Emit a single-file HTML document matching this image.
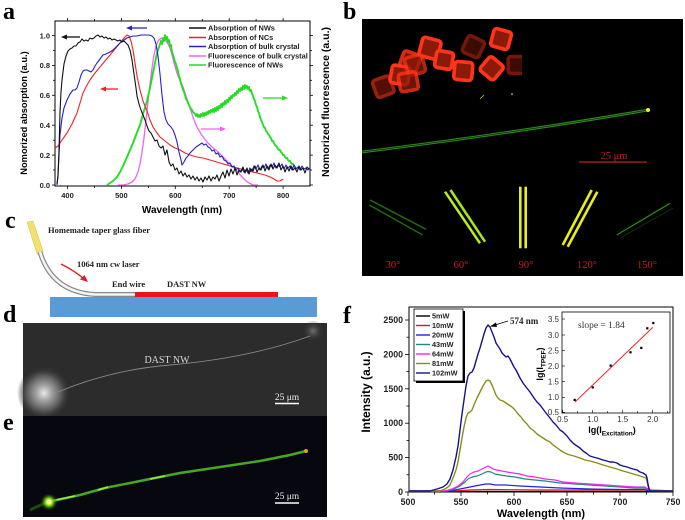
<!DOCTYPE html>
<html><head><meta charset="utf-8"><style>
html,body{margin:0;padding:0;background:#fff;}
svg{display:block;}
.sb{font-family:"Liberation Sans",Arial,sans-serif;font-weight:bold;}
.sr{font-family:"Liberation Sans",Arial,sans-serif;}
.tf{font-family:"Liberation Serif","Times New Roman",serif;}
</style></head><body>
<svg width="685" height="520" viewBox="0 0 685 520" xmlns="http://www.w3.org/2000/svg">
<defs>
<radialGradient id="glowd" cx="50%" cy="50%" r="50%">
<stop offset="0" stop-color="#e8e8e8"/><stop offset="0.3" stop-color="#a0a0a0"/><stop offset="0.65" stop-color="#5a5a5a"/><stop offset="1" stop-color="#2c2c2c" stop-opacity="0"/>
</radialGradient>
<radialGradient id="glowd2" cx="50%" cy="50%" r="50%">
<stop offset="0" stop-color="#707070"/><stop offset="1" stop-color="#2c2c2c" stop-opacity="0"/>
</radialGradient>
<radialGradient id="glowe" cx="50%" cy="50%" r="50%">
<stop offset="0" stop-color="#f4ff60"/><stop offset="0.4" stop-color="#80e020"/><stop offset="1" stop-color="#0a1a05" stop-opacity="0"/>
</radialGradient>
<clipPath id="clipb"><rect x="362" y="19" width="321" height="257"/></clipPath>
<clipPath id="clipc"><rect x="362" y="19" width="160" height="257"/></clipPath>
</defs>

<!-- ===== Panel a ===== -->
<text x="3" y="19" class="tf" font-size="24" font-weight="bold">a</text>
<rect x="55" y="21" width="255" height="165" fill="none" stroke="#000" stroke-width="1"/>
<g stroke="#000" stroke-width="0.8">
<line x1="52" y1="185" x2="55" y2="185"/><line x1="53" y1="170" x2="55" y2="170"/>
<line x1="52" y1="155.1" x2="55" y2="155.1"/><line x1="53" y1="140.2" x2="55" y2="140.2"/>
<line x1="52" y1="125.2" x2="55" y2="125.2"/><line x1="53" y1="110.2" x2="55" y2="110.2"/>
<line x1="52" y1="95.3" x2="55" y2="95.3"/><line x1="53" y1="80.3" x2="55" y2="80.3"/>
<line x1="52" y1="65.4" x2="55" y2="65.4"/><line x1="53" y1="50.5" x2="55" y2="50.5"/>
<line x1="52" y1="35.5" x2="55" y2="35.5"/>
<line x1="310" y1="185" x2="313" y2="185"/><line x1="310" y1="170" x2="312" y2="170"/>
<line x1="310" y1="155.1" x2="313" y2="155.1"/><line x1="310" y1="140.2" x2="312" y2="140.2"/>
<line x1="310" y1="125.2" x2="313" y2="125.2"/><line x1="310" y1="110.2" x2="312" y2="110.2"/>
<line x1="310" y1="95.3" x2="313" y2="95.3"/><line x1="310" y1="80.3" x2="312" y2="80.3"/>
<line x1="310" y1="65.4" x2="313" y2="65.4"/><line x1="310" y1="50.5" x2="312" y2="50.5"/>
<line x1="310" y1="35.5" x2="313" y2="35.5"/>
<line x1="67.5" y1="186" x2="67.5" y2="189"/><line x1="94.5" y1="186" x2="94.5" y2="188"/>
<line x1="121.4" y1="186" x2="121.4" y2="189"/><line x1="148.4" y1="186" x2="148.4" y2="188"/>
<line x1="175.3" y1="186" x2="175.3" y2="189"/><line x1="202.3" y1="186" x2="202.3" y2="188"/>
<line x1="229.2" y1="186" x2="229.2" y2="189"/><line x1="256.1" y1="186" x2="256.1" y2="188"/>
<line x1="283.1" y1="186" x2="283.1" y2="189"/>
<line x1="67.5" y1="21" x2="67.5" y2="18"/><line x1="94.5" y1="21" x2="94.5" y2="19"/>
<line x1="121.4" y1="21" x2="121.4" y2="18"/><line x1="148.4" y1="21" x2="148.4" y2="19"/>
<line x1="175.3" y1="21" x2="175.3" y2="18"/><line x1="202.3" y1="21" x2="202.3" y2="19"/>
<line x1="229.2" y1="21" x2="229.2" y2="18"/><line x1="256.1" y1="21" x2="256.1" y2="19"/>
<line x1="283.1" y1="21" x2="283.1" y2="18"/>
</g>
<g class="sb" font-size="7.5" text-anchor="end" fill="#222">
<text x="50" y="188">0.0</text><text x="50" y="158">0.2</text><text x="50" y="128">0.4</text>
<text x="50" y="98">0.6</text><text x="50" y="68">0.8</text><text x="50" y="38.5">1.0</text>
</g>
<g class="sb" font-size="7.5" text-anchor="middle" fill="#222">
<text x="67.5" y="198">400</text><text x="121.4" y="198">500</text><text x="175.3" y="198">600</text>
<text x="229.2" y="198">700</text><text x="283.1" y="198">800</text>
</g>
<text class="sb" font-size="10" text-anchor="middle" x="182" y="213">Wavelength (nm)</text>
<text class="sb" font-size="9.3" text-anchor="middle" transform="translate(27,113) rotate(-90)">Nomorized absorption (a.u.)</text>
<text class="sb" font-size="10.5" text-anchor="middle" transform="translate(329,102) rotate(-90)">Nomorized fluorescence (a.u.)</text>

<g fill="none" stroke-linejoin="round">
<polyline stroke="#ee66ee" stroke-width="1.3" points="118,185 123,185 128,184 132,182 135,179 138,172 140,164 142,152 144,138 146,120 148,102 150,84 152,68 154,55 156,46 158,41 160,39 162,38 164,39 166,41 168,44 170,48 172,55 174,63 176,70 178,76 180,80 183,87 186,96 190,108 194,120 197,127 201,134 207,142 212,147 217,151 222,156 227,161 232,166 237,171 241,176 245,180 249,183 253,185 258,185"/>
<polyline stroke="#22dd22" stroke-width="1.9" points="107,185 110,183 113,181 117,177 120,172 123,166 127,157 130,150 133,143 136,135 140,125 143,114 147,101 150,88 153,73 155,63 157,53 159,47 161,41 162,44 163,38 164,41 165,35 166,40 167,37 168,42 169,40 170,46 171,45 172,52 173,55 174,58 175,62 176,64 177,68 178,71 179,76 180,79 181,84 182,86 183,90 184,92 185,95 186,99 187,100 188,103 189,105 190,107 191,109 192,110 193,112 194,113 195,114 196,116 197,114 198,117 199,115 200,117 201,114 202,116 203,113 204,116 205,113 206,115 207,112 208,114 209,111 210,113 211,110 212,112 213,109 214,112 215,108 216,111 217,107 218,110 219,106 220,108 221,104 222,107 223,103 224,105 225,101 226,104 227,100 228,102 229,98 230,100 231,96 232,98 233,95 234,96 235,93 236,95 237,91 238,93 239,89 240,91 241,88 242,90 243,86 244,89 245,85 246,88 247,86 248,89 249,87 250,91 251,90 252,94 253,96 254,99 255,101 256,105 257,107 258,111 259,113 260,117 261,120 262,122 263,125 264,127 265,128 266,131 267,132 268,134 269,135 270,137 271,138 272,141 273,141 274,143 275,145 276,146 277,147 278,149 279,150 280,150 281,152 282,153 283,155 284,155 285,157 286,158 287,158 288,160 289,161 290,161 291,163 292,164 293,164 294,166 295,167 296,168"/>
<polyline stroke="#ee2222" stroke-width="1.1" points="55,148 58,146 62,140 67,133 72,124 77,113 80,103 83,93 86,87 90,80 95,73 100,67 105,61 110,55 115,49 120,43 124,38 127,35 129,36 131,41 133,50 135,63 137,76 140,90 143,101 147,111 150,120 153,127 157,133 160,137 165,141 170,145 175,148 180,150 185,153 190,155 197,157 203,158 210,160 220,163 230,166 237,168 245,170 257,173 265,175 270,177 274,179 277,181 280,181 283,179"/>
<polyline stroke="#2222cc" stroke-width="1.1" points="57,185 58,175 59,155 60,135 62,118 64,108 67,100 70,94 73,90 75,90 77,88 79,82 81,75 83,71 85,70 87,70 89,71 91,72 93,70 95,66 97,63 100,59 103,55 106,54 110,52 113,50 116,47 120,43 124,40 127,38 130,37 133,36 137,36 141,35 145,35 149,35 152,36 154,38 156,44 158,56 160,74 162,95 164,112 166,120 168,124 171,127 173,130 175,135 177,142 179,152 181,160 182,165 184,162 186,158 188,156 190,153 193,150 196,147 199,145 202,143 204,145 206,144 208,147 210,148 212,151 214,150 216,154 218,153 220,157 222,156 224,160 226,161 228,164 230,163 232,167 234,166 236,170 238,168 240,172 242,169 244,172 246,170 248,173 250,168 252,171 254,166 256,169 258,165 260,170 262,166 264,168 266,164 268,169 270,165 272,167 274,163 276,168 278,165 280,167 282,164 284,169 286,165 288,168 290,166 292,170 294,165 296,169 298,167 300,170 302,166 304,169 306,168 308,170 310,168"/>
<polyline stroke="#111" stroke-width="1.1" points="57,184 58,176 59,150 60,112 61,92 62,80 64,64 66,56 68,51 70,49 72,48 74,46 76,46 78,43 80,42 82,39 84,41 86,40 88,41 90,38 92,39 94,38 96,36 98,35 100,37 102,36 104,38 106,37 108,39 110,38 112,40 114,39 116,40 118,41 120,40 122,42 124,41 126,43 128,45 130,50 132,60 134,74 136,88 137,96 139,104 141,110 143,115 145,120 147,126 149,131 151,133 153,137 155,141 157,140 159,146 161,148 163,146 165,155 167,150 169,162 171,166 173,164 175,170 177,168 179,174 181,171 183,176 185,173 187,177 189,175 191,179 193,176 195,180 197,177 199,181 201,178 203,182 205,177 207,180 209,176 211,181 213,177 215,179 217,175 219,181 221,176 223,172 225,178 227,170 229,176 231,169 233,174 235,168 237,175 239,170 241,172 243,167 245,173 247,168 249,174 251,169 253,171 255,166 257,172 259,168 261,170 263,165 265,171 267,166 269,170 271,164 273,169 275,165 277,168 279,163 281,170 283,166 285,172 287,167 289,171 291,166 293,170 295,168 297,172 299,166 301,170 303,168 305,173 307,167 309,169"/>
</g>
<g stroke-width="1.3">
<line x1="66" y1="37" x2="80" y2="37" stroke="#111"/><polygon points="61,37 67,34.5 67,39.5" fill="#111"/>
<line x1="131" y1="28" x2="147" y2="28" stroke="#2222cc"/><polygon points="126,28 132,25.5 132,30.5" fill="#2222cc"/>
<line x1="105" y1="89" x2="118" y2="89" stroke="#ee2222"/><polygon points="100,89 106,86.5 106,91.5" fill="#ee2222"/>
<line x1="263" y1="98" x2="282" y2="98" stroke="#22dd22"/><polygon points="288,98 282,95.5 282,100.5" fill="#22dd22"/>
<line x1="201" y1="129" x2="220" y2="129" stroke="#ee66ee"/><polygon points="226,129 220,126.5 220,131.5" fill="#ee66ee"/>
</g>
<g stroke-width="1.5">
<line x1="189" y1="28" x2="206" y2="28" stroke="#111"/>
<line x1="189" y1="37.5" x2="206" y2="37.5" stroke="#ee2222"/>
<line x1="189" y1="46.5" x2="206" y2="46.5" stroke="#2222cc"/>
<line x1="189" y1="56" x2="206" y2="56" stroke="#ee66ee"/>
<line x1="189" y1="65" x2="206" y2="65" stroke="#22dd22"/>
</g>
<g class="sb" font-size="7.4" fill="#222">
<text x="208" y="30.7">Absorption of NWs</text>
<text x="208" y="40.2">Absorption of NCs</text>
<text x="208" y="49.2">Absorption of bulk crystal</text>
<text x="208" y="58.7">Fluorescence of bulk crystal</text>
<text x="208" y="67.7">Fluorescence of NWs</text>
</g>

<!-- ===== Panel b ===== -->
<text x="343" y="19" class="tf" font-size="24" font-weight="bold">b</text>
<rect x="362" y="19" width="321" height="257" fill="#000"/>
<g clip-path="url(#clipc)">
<g fill="#8a1a0a" stroke="#ff3418" stroke-width="3.6">
<rect x="374.3" y="77.7" width="18" height="18" rx="3" transform="rotate(-20 383.3 86.7)" opacity="0.6"/>
<rect x="464.3" y="37.7" width="18" height="18" rx="3" transform="rotate(25 473.3 46.7)" opacity="0.45"/>
<rect x="508.2" y="56.5" width="17" height="17" rx="3" opacity="0.45"/>
<rect x="401" y="52.7" width="18" height="18" rx="3" transform="rotate(20 410 61.7)" opacity="0.85"/>
<rect x="420.5" y="38.8" width="19" height="19" rx="3" transform="rotate(15 430 48.3)"/>
<rect x="435.5" y="51.5" width="17" height="17" rx="3" transform="rotate(10 444 60)"/>
<rect x="391" y="66" width="18" height="18" rx="3" transform="rotate(10 400 75)"/>
<rect x="406" y="56" width="18" height="18" rx="3" transform="rotate(-15 415 65)" opacity="0.7"/>
<rect x="399.3" y="72.7" width="18" height="18" rx="3" transform="rotate(-10 408.3 81.7)" opacity="0.8"/>
<rect x="454.3" y="62" width="18" height="18" rx="3" transform="rotate(5 463.3 71)"/>
<rect x="482.7" y="59.3" width="18" height="18" rx="3" transform="rotate(40 491.7 68.3)"/>
<rect x="492" y="30" width="18" height="18" rx="3" transform="rotate(15 501 39)"/>
</g>
</g>
<line x1="480" y1="99" x2="484" y2="95" stroke="#b0d020" stroke-width="0.8"/>
<circle cx="512" cy="94" r="0.9" fill="#d0e020"/>
<g clip-path="url(#clipb)">
<path d="M362,152 Q515,133 648,110" fill="none" stroke="#2e8a18" stroke-width="2.8"/>
<path d="M362,152 Q515,133 648,110" fill="none" stroke="#0a2a05" stroke-width="0.7"/>
<circle cx="648" cy="110" r="2" fill="#e8f040"/>
<line x1="370" y1="200" x2="426" y2="229.3" stroke="#1e6a10" stroke-width="1.5"/>
<line x1="369.3" y1="205" x2="422.7" y2="235" stroke="#1e6a10" stroke-width="1.5"/>
<line x1="445" y1="191.7" x2="480" y2="243.3" stroke="#b8f020" stroke-width="2.5"/>
<line x1="450.5" y1="190" x2="485" y2="241.7" stroke="#a8e818" stroke-width="2.5"/>
<line x1="520.3" y1="186.7" x2="520.3" y2="248.3" stroke="#e0f020" stroke-width="2.6"/>
<line x1="525.7" y1="186.7" x2="525.7" y2="248.3" stroke="#e8f020" stroke-width="2.6"/>
<line x1="591.7" y1="190" x2="562.7" y2="245" stroke="#e8f010" stroke-width="2.6"/>
<line x1="597.3" y1="191.7" x2="567.7" y2="246.7" stroke="#e8f010" stroke-width="2.6"/>
<line x1="670" y1="203.3" x2="616.7" y2="235" stroke="#2a8a14" stroke-width="1.2"/>
<line x1="673" y1="208" x2="621" y2="237.5" stroke="#0e3008" stroke-width="1"/>
</g>
<line x1="579" y1="162" x2="647" y2="162" stroke="#c81e1e" stroke-width="1.2"/>
<text x="614" y="159" class="tf" font-size="10.5" fill="#c81e1e" text-anchor="middle">25 μm</text>
<g class="tf" font-size="10.5" fill="#c81e1e" text-anchor="middle">
<text x="393" y="268">30°</text><text x="461" y="268">60°</text><text x="526" y="268">90°</text>
<text x="587" y="268">120°</text><text x="647" y="268">150°</text>
</g>

<!-- ===== Panel c ===== -->
<text x="5" y="228" class="tf" font-size="24" font-weight="bold">c</text>
<rect x="50" y="297" width="267" height="20" fill="#5b9bd5"/>
<rect x="135" y="292" width="143" height="5" fill="#e8141c"/>
<polygon points="27,222 33,221 43,251 37,254" fill="#f2e070" stroke="#d8c040" stroke-width="0.5"/>
<path d="M40,252 Q52,292 95,294.5 L135,294.5" fill="none" stroke="#888" stroke-width="5"/>
<path d="M40,252 Q52,292 95,294.5 L135,294.5" fill="none" stroke="#f4f4f4" stroke-width="2.6"/>
<path d="M61,264 Q75,271 84,279" fill="none" stroke="#e02020" stroke-width="1.5"/>
<polygon points="88,282 80,279.5 84.5,275" fill="#e02020"/>
<g class="tf" font-weight="bold" font-size="8.5" fill="#222">
<text x="48" y="233">Homemade taper glass fiber</text>
<text x="77" y="267">1064 nm cw laser</text>
<text x="112" y="287">End wire</text>
<text x="167" y="287">DAST NW</text>
</g>

<!-- ===== Panel d ===== -->
<text x="3" y="322" class="tf" font-size="24" font-weight="bold">d</text>
<rect x="23" y="323" width="304" height="93" fill="#2c2c2c"/>
<circle cx="44" cy="393" r="27" fill="url(#glowd)"/>
<circle cx="313" cy="331" r="11" fill="url(#glowd2)"/>
<path d="M58,392 Q110,370 170,365 Q250,358 310,336" fill="none" stroke="#8a8a8a" stroke-width="0.9"/>
<text x="167" y="363" class="tf" font-size="10" fill="#d8d8d8" text-anchor="middle">DAST NW</text>
<text x="287" y="400" class="tf" font-size="9.5" fill="#eee" text-anchor="middle">25 μm</text>
<line x1="275" y1="403.5" x2="299" y2="403.5" stroke="#fff" stroke-width="1.5"/>

<!-- ===== Panel e ===== -->
<text x="3" y="430" class="tf" font-size="24" font-weight="bold">e</text>
<rect x="23" y="416" width="304" height="101" fill="#07070f"/>
<path d="M30,510 Q38,506 48,502" fill="none" stroke="#1a4a10" stroke-width="3"/>
<path d="M48,502 L80,495 L105,488 L140,481 L180,473 L220,467 L260,461 L290,455 L306,451" fill="none" stroke="#46a822" stroke-width="2.5" stroke-linejoin="round"/>
<path d="M50,501 L75,496 M98,490 L108,487 M150,479 L165,476" fill="none" stroke="#9ae840" stroke-width="1.6"/>
<circle cx="49" cy="502" r="9" fill="url(#glowe)"/>
<circle cx="49" cy="502" r="2.5" fill="#f8ff90"/>
<circle cx="306" cy="451" r="2" fill="#e0a020"/>
<text x="287" y="499" class="tf" font-size="9.5" fill="#eee" text-anchor="middle">25 μm</text>
<line x1="275" y1="503" x2="299" y2="503" stroke="#fff" stroke-width="1.5"/>

<!-- ===== Panel f ===== -->
<text x="343" y="323" class="tf" font-size="24" font-weight="bold">f</text>
<rect x="409" y="307" width="264" height="185" fill="none" stroke="#000" stroke-width="1"/>
<g stroke="#000" stroke-width="0.8">
<line x1="405" y1="492" x2="409" y2="492"/><line x1="406.5" y1="474.8" x2="409" y2="474.8"/>
<line x1="405" y1="457.6" x2="409" y2="457.6"/><line x1="406.5" y1="440.4" x2="409" y2="440.4"/>
<line x1="405" y1="423.2" x2="409" y2="423.2"/><line x1="406.5" y1="406" x2="409" y2="406"/>
<line x1="405" y1="388.8" x2="409" y2="388.8"/><line x1="406.5" y1="371.6" x2="409" y2="371.6"/>
<line x1="405" y1="354.4" x2="409" y2="354.4"/><line x1="406.5" y1="337.2" x2="409" y2="337.2"/>
<line x1="405" y1="320" x2="409" y2="320"/>
<line x1="408" y1="492" x2="408" y2="496"/><line x1="434.5" y1="492" x2="434.5" y2="494.5"/>
<line x1="461" y1="492" x2="461" y2="496"/><line x1="487.5" y1="492" x2="487.5" y2="494.5"/>
<line x1="514" y1="492" x2="514" y2="496"/><line x1="540.5" y1="492" x2="540.5" y2="494.5"/>
<line x1="567" y1="492" x2="567" y2="496"/><line x1="593.5" y1="492" x2="593.5" y2="494.5"/>
<line x1="620" y1="492" x2="620" y2="496"/><line x1="646.5" y1="492" x2="646.5" y2="494.5"/>
<line x1="673" y1="492" x2="673" y2="496"/>
</g>
<g class="sb" font-size="8.8" text-anchor="end" fill="#222">
<text x="403" y="495">0</text><text x="403" y="460.6">500</text><text x="403" y="426.2">1000</text>
<text x="403" y="391.8">1500</text><text x="403" y="357.4">2000</text><text x="403" y="323">2500</text>
</g>
<g class="sb" font-size="8.8" text-anchor="middle" fill="#222">
<text x="408" y="505">500</text><text x="461" y="505">550</text><text x="514" y="505">600</text>
<text x="567" y="505">650</text><text x="620" y="505">700</text><text x="673" y="505">750</text>
</g>
<text class="sb" font-size="11" text-anchor="middle" x="541" y="517">Wavelength (nm)</text>
<text class="sb" font-size="12" text-anchor="middle" transform="translate(370,392) rotate(-90)">Intensity (a.u.)</text>

<g fill="none" stroke-width="1.2" stroke-linejoin="round">
<polyline stroke="#000" points="409,491.5 673,491.5"/>
<polyline stroke="#ee1111" points="409,491 455,491 470,490 490,489.5 540,490 600,490 645,490 650,491 673,491"/>
<polyline stroke="#2222ee" points="409,491 450,491 460,489 470,487 480,485 486,484 490,484 495,485 505,485 520,486 540,487 560,488 590,489 620,489.5 645,489.5 650,491 673,491"/>
<polyline stroke="#1e8a80" points="409,491 447,491 454,489 460,486 465,482 468,479 472,477 477,476 482,474 486,472 488,471.5 491,472 495,474 500,475 507,476 515,477 525,479 535,480 545,481 560,483 575,484 590,485 605,486 620,487 635,488 645,488 648,489 650,491"/>
<polyline stroke="#ff22ee" points="409,491 445,491 452,489 458,486 463,482 467,477 470,474 474,472 478,471 482,469 486,467 488,466 490,467 493,469 497,470 502,471 507,472 513,473 520,474 527,476 535,477 545,479 555,480 563,482 575,483 590,484 605,485 620,486 635,487 645,487 648,489 650,491 673,491"/>
<polyline stroke="#8c8c1e" stroke-width="1.4" points="409,491 440,491 445,489 448,487 450,485 453,478 456,470 458,462 460,450 462,438 464,427 466,418 468,413 470,412 472,410 474,405 477,398 480,392 483,386 486,381 488,380 490,381 492,385 494,390 496,395 498,398 500,400 503,401 506,403 509,405 512,407 515,410 518,414 521,417 524,421 527,424 530,428 534,431 537,434 540,436 543,438 546,440 550,442 553,445 556,447 560,450 563,452 567,454 570,455 574,456 577,457 580,458 585,460 590,461 597,463 603,465 610,467 617,469 623,471 630,473 637,475 643,477 646,478 647,481 648,486 650,490 673,491"/>
<polyline stroke="#14148a" stroke-width="1.4" points="409,491 430,491 437,489 443,487 447,484 450,479 453,470 456,457 458,446 460,430 462,414 464,400 466,386 468,376 470,373 472,372 474,368 476,361 478,354 480,348 482,341 484,334 486,328 488,325 490,327 492,332 494,337 496,343 498,346 500,349 502,353 504,355 506,357 508,356 510,359 512,363 514,367 516,370 518,374 520,378 523,383 526,387 530,392 534,398 537,402 540,405 543,409 546,413 550,418 553,422 556,425 560,430 563,432 567,436 570,440 574,444 577,446 580,448 583,451 586,453 590,456 593,457 597,458 600,459 603,460 607,461 610,462 613,462 617,463 620,465 623,466 627,467 630,468 633,469 637,470 640,472 643,473 646,475 647,478 648,484 649,489 650,491 673,491"/>
</g>
<line x1="508" y1="321" x2="495" y2="325" stroke="#000" stroke-width="0.9"/>
<polygon points="490,326.5 496,322.5 497,327" fill="#000"/>
<text x="510" y="324" class="tf" font-size="9" font-weight="bold" fill="#222">574 nm</text>

<rect x="416" y="311" width="49" height="72" fill="#000"/>
<rect x="414" y="309" width="49" height="72" fill="#fff" stroke="#000" stroke-width="0.8"/>
<g stroke-width="1.4">
<line x1="416" y1="316" x2="430" y2="316" stroke="#000"/>
<line x1="416" y1="325.5" x2="430" y2="325.5" stroke="#ee1111"/>
<line x1="416" y1="335" x2="430" y2="335" stroke="#2222ee"/>
<line x1="416" y1="344.5" x2="430" y2="344.5" stroke="#1e8a80"/>
<line x1="416" y1="354" x2="430" y2="354" stroke="#ff22ee"/>
<line x1="416" y1="363.5" x2="430" y2="363.5" stroke="#8c8c1e"/>
<line x1="416" y1="373" x2="430" y2="373" stroke="#14148a"/>
</g>
<g class="sb" font-size="7.3" fill="#222">
<text x="432" y="318.6">5mW</text><text x="432" y="328.1">10mW</text><text x="432" y="337.6">20mW</text>
<text x="432" y="347.1">43mW</text><text x="432" y="356.6">64mW</text><text x="432" y="366.1">81mW</text>
<text x="432" y="375.6">102mW</text>
</g>

<!-- inset -->
<rect x="562" y="312" width="108" height="101" fill="#fff" stroke="#000" stroke-width="0.8"/>
<g stroke="#000" stroke-width="0.6">
<line x1="562.7" y1="413" x2="562.7" y2="410"/><line x1="577.7" y1="413" x2="577.7" y2="411"/>
<line x1="592.7" y1="413" x2="592.7" y2="410"/><line x1="607.7" y1="413" x2="607.7" y2="411"/>
<line x1="622.7" y1="413" x2="622.7" y2="410"/><line x1="637.7" y1="413" x2="637.7" y2="411"/>
<line x1="652.7" y1="413" x2="652.7" y2="410"/><line x1="667.7" y1="413" x2="667.7" y2="411"/>
<line x1="562" y1="412.3" x2="565" y2="412.3"/><line x1="562" y1="397.3" x2="565" y2="397.3"/>
<line x1="562" y1="381.7" x2="565" y2="381.7"/><line x1="562" y1="366" x2="565" y2="366"/>
<line x1="562" y1="350.7" x2="565" y2="350.7"/><line x1="562" y1="335" x2="565" y2="335"/>
<line x1="562" y1="319" x2="565" y2="319"/>
</g>
<g class="sr" font-size="8" fill="#333" text-anchor="end">
<text x="559" y="415">0.5</text><text x="559" y="400">1.0</text><text x="559" y="384.5">1.5</text>
<text x="559" y="369">2.0</text><text x="559" y="353.5">2.5</text><text x="559" y="338">3.0</text>
<text x="559" y="322">3.5</text>
</g>
<g class="sr" font-size="8" fill="#333" text-anchor="middle">
<text x="562.7" y="422">0.5</text><text x="592.7" y="422">1.0</text><text x="622.7" y="422">1.5</text><text x="652.7" y="422">2.0</text>
</g>
<line x1="574.7" y1="402.3" x2="652.7" y2="327.4" stroke="#ee2222" stroke-width="1"/>
<g fill="#000">
<rect x="573.6" y="398.8" width="2.2" height="2.2"/><rect x="591.6" y="386.3" width="2.2" height="2.2"/>
<rect x="609.6" y="364.5" width="2.2" height="2.2"/><rect x="629.4" y="351.2" width="2.2" height="2.2"/>
<rect x="640.2" y="346.8" width="2.2" height="2.2"/><rect x="646.2" y="327.2" width="2.2" height="2.2"/>
<rect x="652.2" y="321.9" width="2.2" height="2.2"/>
</g>
<text x="578" y="328" class="tf" font-size="9.5" fill="#333">slope = 1.84</text>
<text class="sb" font-size="9" text-anchor="middle" transform="translate(543,364) rotate(-90)">lg(I<tspan font-size="6.5" dy="2.5">TPEF</tspan><tspan dy="-2.5">)</tspan></text>
<text class="sb" font-size="9" text-anchor="middle" x="612" y="433">lg(I<tspan font-size="6.5" dy="2.5">Excitation</tspan><tspan dy="-2.5">)</tspan></text>
</svg>
</body></html>
